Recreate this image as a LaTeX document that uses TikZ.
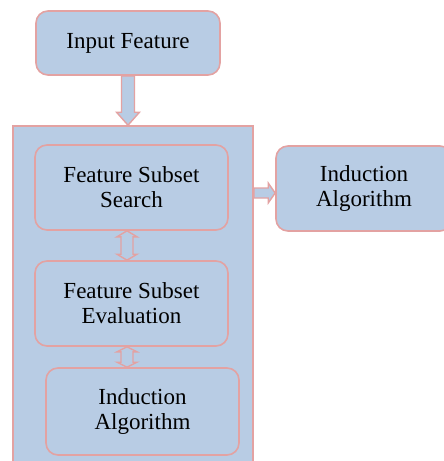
\documentclass[tikz,border=0pt]{standalone}
\usepackage{fontspec}
\setmainfont{Liberation Serif}[Ligatures=TeX]
\usetikzlibrary{positioning,calc}
\definecolor{boxfill}{HTML}{B8CCE4}
\definecolor{boxline}{HTML}{E3A2A2}
\tikzset{
	stage/.style={draw=boxline, fill=boxfill, line width=1.6pt, rounded corners=12pt,
		align=center, font=\rmfamily\fontsize{23}{25}\selectfont, inner sep=0pt},
	wrapper/.style={draw=boxline, fill=boxfill, line width=1.6pt, inner sep=0pt},
	blockarrow/.style={draw=boxline, fill=boxfill, line width=1.4pt, line join=miter}
}
\begin{document}
\begin{tikzpicture}[x=1pt, y=1pt]
	\useasboundingbox (0, 0) rectangle (444, -461);
	\clip (0, 0) rectangle (444, -461);

	\node[wrapper, minimum width=240pt, minimum height=354pt] (wrap) at (133, -303) {};

	\node[stage, minimum width=184pt, minimum height=64pt] (inp) at (128, -43) {Input Feature};
	\node[stage, minimum width=193pt, minimum height=85pt] (search) at (131.5, -187.5) {Feature Subset\\Search};
	\node[stage, minimum width=193pt, minimum height=85pt] (eval) at (131.5, -303.5) {Feature Subset\\Evaluation};
	\node[stage, minimum width=193pt, minimum height=87pt] (indB) at (142.5, -411.5) {Induction\\Algorithm};
	\node[stage, minimum width=176pt, minimum height=85pt] (indR) at (364, -188.5) {Induction\\Algorithm};

	% input -> wrapper
	\coordinate (dn) at (inp.south |- wrap.north);
	\draw[blockarrow] ([xshift=-6.5pt]inp.south) -- ([shift={(-6.5pt,13pt)}]dn) -- ([shift={(-11.5pt,13pt)}]dn)
		-- (dn) -- ([shift={(11.5pt,13pt)}]dn) -- ([shift={(6.5pt,13pt)}]dn) -- ([xshift=6.5pt]inp.south) -- cycle;

	% wrapper -> right induction
	\coordinate (ra) at ([yshift=-5.5pt]wrap.east |- search.east);
	\coordinate (rb) at (ra -| indR.west);
	\draw[blockarrow] ([yshift=5pt]ra) -- ([shift={(-7pt,5pt)}]rb) -- ([shift={(-7pt,10pt)}]rb)
		-- (rb) -- ([shift={(-7pt,-10pt)}]rb) -- ([shift={(-7pt,-5pt)}]rb) -- ([yshift=-5pt]ra) -- cycle;

	% search <-> evaluation
	\coordinate (s1) at ([xshift=-4.5pt]search.south);
	\coordinate (s2) at ([xshift=-4.5pt]eval.north);
	\draw[blockarrow] (s1) -- ([shift={(10pt,-6pt)}]s1) -- ([shift={(6pt,-6pt)}]s1) -- ([shift={(6pt,6pt)}]s2)
		-- ([shift={(10pt,6pt)}]s2) -- (s2) -- ([shift={(-10pt,6pt)}]s2) -- ([shift={(-6pt,6pt)}]s2)
		-- ([shift={(-6pt,-6pt)}]s1) -- ([shift={(-10pt,-6pt)}]s1) -- cycle;

	% evaluation <-> induction
	\coordinate (e1) at ([xshift=-4.5pt]eval.south);
	\coordinate (e2) at (e1 |- indB.north);
	\draw[blockarrow] (e1) -- ([shift={(10pt,-5pt)}]e1) -- ([shift={(6pt,-5pt)}]e1) -- ([shift={(6pt,5pt)}]e2)
		-- ([shift={(10pt,5pt)}]e2) -- (e2) -- ([shift={(-10pt,5pt)}]e2) -- ([shift={(-6pt,5pt)}]e2)
		-- ([shift={(-6pt,-5pt)}]e1) -- ([shift={(-10pt,-5pt)}]e1) -- cycle;
\end{tikzpicture}
\end{document}
